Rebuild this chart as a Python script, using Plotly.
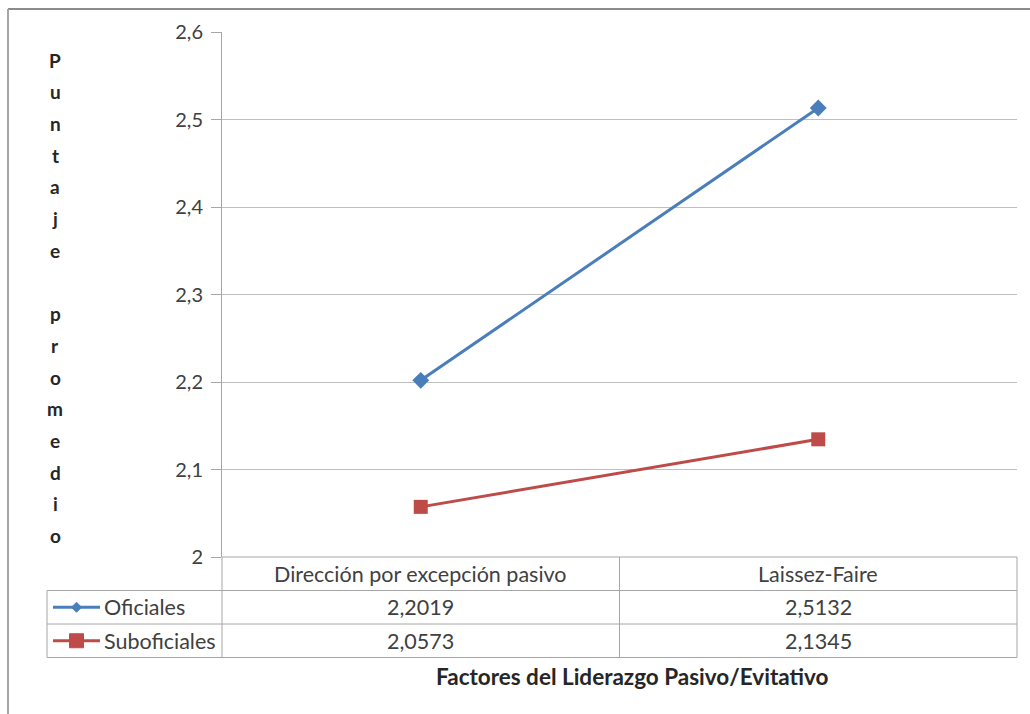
import plotly.graph_objects as go

# Data
categories = ["Dirección por excepción pasivo", "Laissez-Faire"]
series_names = ["Oficiales", "Suboficiales"]
oficiales = [2.2019, 2.5132]
suboficiales = [2.0573, 2.1345]
y_ticks = [2.0, 2.1, 2.2, 2.3, 2.4, 2.5, 2.6]
y_title = "Puntaje promedio"
x_title = "Factores del Liderazgo Pasivo/Evitativo"

W, H = 1030, 714
FONT = "Lato"
BLUE = "#4A7EBB"
RED = "#BE4B48"
GRID = "#BFBFBF"
TXT = "#404040"
TABLE_SIZE = 21.5

# plot area in pixels
PL, PR, PT, PB = 222, 1017, 32, 557
ROW_H = 33.5


def px(x):
    return x / W


def py(y):
    return 1 - y / H


fig = go.Figure()
values = [oficiales, suboficiales]
colors = [BLUE, RED]
symbols = ["diamond", "square"]
sizes = [13, 14]
for name, vals, col, sym, sz in zip(series_names, values, colors, symbols, sizes):
    fig.add_trace(go.Scatter(
        x=categories, y=vals, name=name, mode="lines+markers",
        line=dict(color=col, width=3),
        marker=dict(symbol=sym, size=sz, color=col),
        showlegend=False, cliponaxis=False,
    ))

fig.update_layout(
    width=W, height=H, autosize=False,
    margin=dict(l=0, r=0, t=0, b=0, pad=0, autoexpand=False),
    paper_bgcolor="white", plot_bgcolor="white",
    separators=", ",
    showlegend=False,
    font=dict(family=FONT, size=15, color=TXT),
    xaxis=dict(
        domain=[px(PL), px(PR)], type="category", range=[-0.5, 1.5],
        showticklabels=False, showgrid=False, zeroline=False, ticks="",
        automargin=False,
    ),
    yaxis=dict(
        domain=[py(PB), py(PT)], range=[2.0, 2.6], tickvals=y_ticks,
        tickformat=".1~f", showgrid=True, gridcolor=GRID, gridwidth=1,
        zeroline=False, showline=True, linecolor="#A6A6A6", linewidth=1,
        ticks="outside", ticklen=10, tickcolor="#A6A6A6", automargin=False,
        ticklabelstandoff=4,
        tickfont=dict(family=FONT, size=20, color=TXT),
    ),
)

shapes = []
line_style = dict(color="#A6A6A6", width=1)

# outer frame (top and left edges)
shapes.append(dict(type="line", xref="paper", yref="paper",
                   x0=px(8), x1=1, y0=py(9), y1=py(9),
                   line=dict(color="#8C8C8C", width=2)))
shapes.append(dict(type="line", xref="paper", yref="paper",
                   x0=px(8), x1=px(8), y0=py(9), y1=0,
                   line=dict(color="#A6A6A6", width=2)))

# data table grid below the plot
n_rows = 1 + len(series_names)
table_bottom = PB + n_rows * ROW_H
LEG_L = 47
for r in range(n_rows + 1):
    yy = PB + r * ROW_H
    x_start = PL if r == 0 else LEG_L
    shapes.append(dict(type="line", xref="paper", yref="paper",
                       x0=px(x_start), x1=px(PR), y0=py(yy), y1=py(yy),
                       line=line_style))
col_w = (PR - PL) / len(categories)
for c in range(len(categories) + 1):
    xx = PL + c * col_w
    shapes.append(dict(type="line", xref="paper", yref="paper",
                       x0=px(xx), x1=px(xx), y0=py(PB), y1=py(table_bottom),
                       line=line_style))
shapes.append(dict(type="line", xref="paper", yref="paper",
                   x0=px(LEG_L), x1=px(LEG_L), y0=py(PB + ROW_H), y1=py(table_bottom),
                   line=line_style))

annotations = []


def label(x, y, text, size=TABLE_SIZE, color=TXT, xanchor="center"):
    annotations.append(dict(x=px(x), y=py(y), xref="paper", yref="paper",
                            text=text, showarrow=False,
                            xanchor=xanchor, yanchor="middle",
                            font=dict(family=FONT, size=size, color=color)))


# header row
for i, cat in enumerate(categories):
    label(PL + (i + 0.5) * col_w, PB + ROW_H / 2, cat)

# value rows and legend keys
for r, (name, vals, col, sym) in enumerate(zip(series_names, values, colors, symbols)):
    yc = PB + (r + 1.5) * ROW_H
    for i, v in enumerate(vals):
        label(PL + (i + 0.5) * col_w, yc, f"{v:.4f}".replace(".", ","))
    shapes.append(dict(type="line", xref="paper", yref="paper",
                       x0=px(53), x1=px(100), y0=py(yc), y1=py(yc),
                       line=dict(color=col, width=3)))
    mx = 76.5
    if sym == "diamond":
        d = 5
        path = (f"M {px(mx)},{py(yc - d)} L {px(mx + d)},{py(yc)} "
                f"L {px(mx)},{py(yc + d)} L {px(mx - d)},{py(yc)} Z")
        shapes.append(dict(type="path", xref="paper", yref="paper", path=path,
                           fillcolor=col, line=dict(color=col, width=1)))
    else:
        d = 7
        shapes.append(dict(type="rect", xref="paper", yref="paper",
                           x0=px(mx - d), x1=px(mx + d), y0=py(yc - d), y1=py(yc + d),
                           fillcolor=col, line=dict(color=col, width=1)))
    label(102, yc, name, xanchor="left")

# axis titles
label(632, 676, f"<b>{x_title}</b>", size=22.5, color="#262626")
letter_top, letter_step = 60, 31.7
for k, ch in enumerate(y_title):
    if ch != " ":
        label(55, letter_top + k * letter_step, f"<b>{ch}</b>", size=19, color="#262626")

fig.update_layout(shapes=shapes, annotations=annotations)
fig.write_html("out.html")
